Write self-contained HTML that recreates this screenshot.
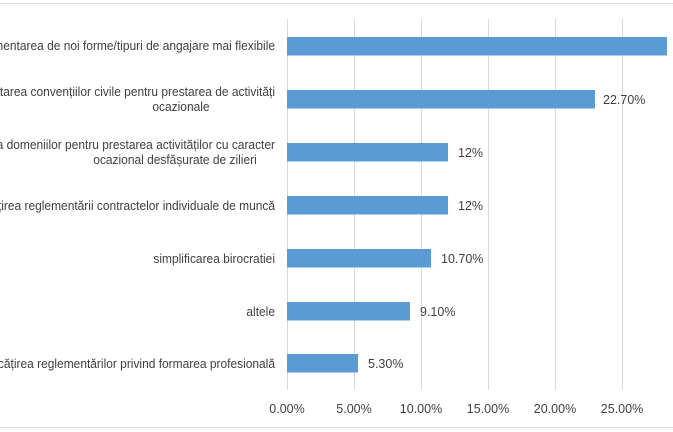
<!DOCTYPE html>
<html><head><meta charset="utf-8"><style>
html,body{margin:0;padding:0;background:#fff;}
svg{display:block;font-family:"Liberation Sans","DejaVu Sans",sans-serif;}
</style></head><body>
<svg width="673" height="432" xmlns="http://www.w3.org/2000/svg">
<rect width="673" height="432" fill="#fff"/>
<line x1="0" y1="3.5" x2="673" y2="3.5" stroke="#d9d9d9"/>
<line x1="0" y1="427.5" x2="673" y2="427.5" stroke="#d9d9d9"/>
<g stroke="#d9d9d9" stroke-width="1">
<line x1="287.5" y1="19" x2="287.5" y2="390"/>
<line x1="354.5" y1="19" x2="354.5" y2="390"/>
<line x1="421.5" y1="19" x2="421.5" y2="390"/>
<line x1="488.5" y1="19" x2="488.5" y2="390"/>
<line x1="555.5" y1="19" x2="555.5" y2="390"/>
<line x1="622.5" y1="19" x2="622.5" y2="390"/>
</g>
<g fill="#5b9bd5">
<rect x="287" y="37" width="380" height="18.5"/>
<rect x="287" y="90" width="308" height="18.5"/>
<rect x="287" y="143" width="161" height="18.5"/>
<rect x="287" y="196" width="161" height="18.5"/>
<rect x="287" y="249" width="144" height="18.5"/>
<rect x="287" y="302" width="123" height="18.5"/>
<rect x="287" y="354" width="71" height="18.5"/>
</g>
<g font-size="12.5" fill="#404040">
<text x="603" y="104">22.70%</text>
<text x="458" y="157">12%</text>
<text x="458" y="210">12%</text>
<text x="441" y="263">10.70%</text>
<text x="420" y="316">9.10%</text>
<text x="368" y="368">5.30%</text>
</g>
<g font-size="13" fill="#404040" text-anchor="end" transform="translate(275,0) scale(0.92,1) translate(-275,0)">
<text x="275" y="50">mentarea de noi forme/tipuri de angajare mai flexibile</text>
<text x="275" y="96">starea convențiilor civile pentru prestarea de activități</text>
<text x="275" y="149">a domeniilor pentru prestarea activităților cu caracter</text>
<text x="275" y="210">țirea reglementării contractelor individuale de muncă</text>
<text x="275" y="263">simplificarea birocratiei</text>
<text x="275" y="316">altele</text>
<text x="275" y="368">cățirea reglementărilor privind formarea profesională</text>
</g>
<g font-size="13" fill="#404040" text-anchor="middle">
<text x="181" y="111" transform="translate(181,0) scale(0.92,1) translate(-181,0)">ocazionale</text>
<text x="175" y="164" transform="translate(175,0) scale(0.92,1) translate(-175,0)">ocazional desfășurate de zilieri</text>
</g>
<g font-size="12.5" fill="#404040" text-anchor="middle">
<text x="287" y="413">0.00%</text>
<text x="354" y="413">5.00%</text>
<text x="421" y="413">10.00%</text>
<text x="488" y="413">15.00%</text>
<text x="555" y="413">20.00%</text>
<text x="622" y="413">25.00%</text>
</g>
</svg>
</body></html>
